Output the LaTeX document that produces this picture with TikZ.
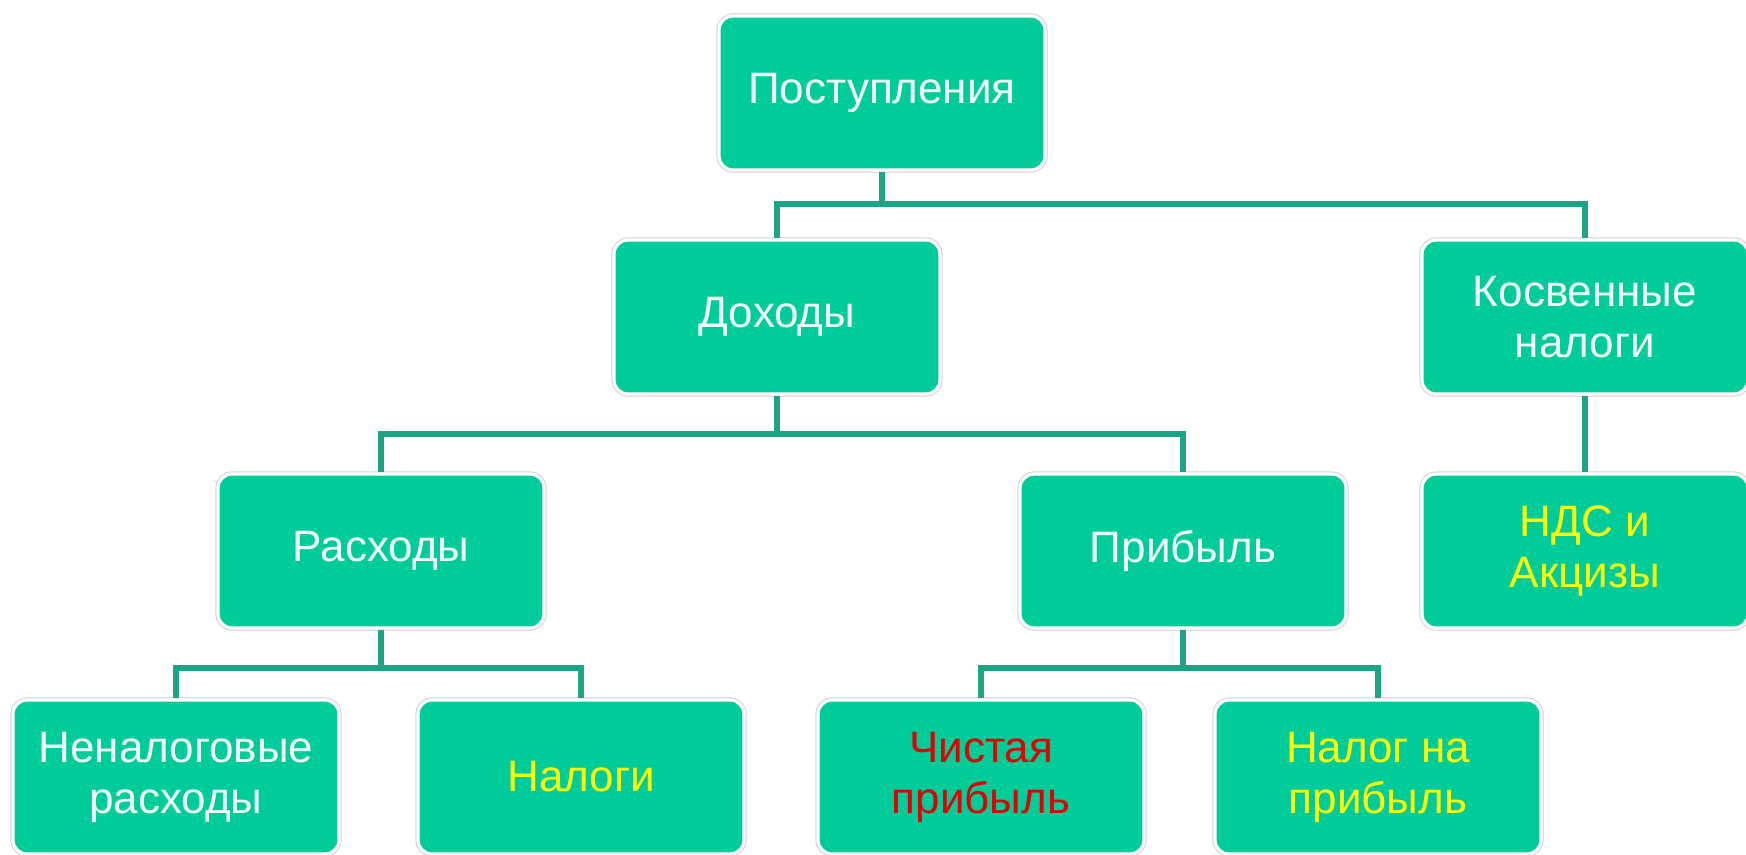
\documentclass[tikz,border=0pt]{standalone}
\usepackage{fontspec}
\setmainfont{Liberation Sans}
\definecolor{boxfill}{HTML}{00CC99}
\definecolor{conncol}{HTML}{1BA585}
\definecolor{txtyellow}{HTML}{FFFF00}
\definecolor{txtred}{HTML}{E00000}
\definecolor{txtwhite}{HTML}{F4FFFA}
\tikzset{
  orgbox/.style={rectangle, rounded corners=7pt, fill=boxfill, draw=white, line width=1.6pt,
    preaction={draw=black!18, line width=2.6pt},
    minimum width=163pt, minimum height=77pt, align=center, font=\fontsize{22}{25.5}\selectfont,
    text=txtwhite, inner sep=2pt},
  conn/.style={draw=conncol, line width=2.6pt}
}
\begin{document}
\begin{tikzpicture}[x=0.5pt,y=-0.5pt]
\useasboundingbox (0,0) rectangle (1746,855);
\node[orgbox] (P) at (882,93) {Поступления};
\node[orgbox] (D) at (777,317) {Доходы};
\node[orgbox] (K) at (1585,317) {Косвенные\\налоги};
\node[orgbox] (R) at (381,551) {Расходы};
\node[orgbox] (Pr) at (1183,551) {Прибыль};
\node[orgbox, text=txtyellow] (N) at (1585,551) {НДС и\\Акцизы};
\node[orgbox] (NN) at (176,777) {Неналоговые\\расходы};
\node[orgbox, text=txtyellow] (Nl) at (581,777) {Налоги};
\node[orgbox, text=txtred] (Ch) at (981,777) {Чистая\\прибыль};
\node[orgbox, text=txtyellow] (NnP) at (1378,777) {Налог на\\прибыль};
\coordinate (b1) at (0,204);
\coordinate (b2) at (0,434);
\coordinate (b3) at (0,668);
\draw[conn] (P.south) -- (P.south |- b1);
\draw[conn] (D.north) -- (D.north |- b1) -- (K.north |- b1) -- (K.north);
\draw[conn] (D.south) -- (D.south |- b2);
\draw[conn] (R.north) -- (R.north |- b2) -- (Pr.north |- b2) -- (Pr.north);
\draw[conn] (K.south) -- (N.north);
\draw[conn] (R.south) -- (R.south |- b3);
\draw[conn] (NN.north) -- (NN.north |- b3) -- (Nl.north |- b3) -- (Nl.north);
\draw[conn] (Pr.south) -- (Pr.south |- b3);
\draw[conn] (Ch.north) -- (Ch.north |- b3) -- (NnP.north |- b3) -- (NnP.north);
\end{tikzpicture}
\end{document}
